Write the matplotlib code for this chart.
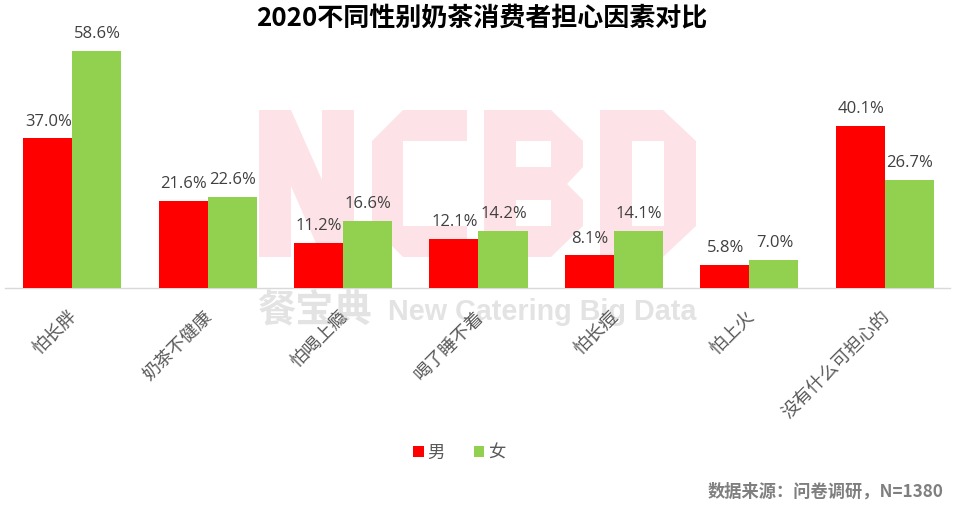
import matplotlib
matplotlib.use("Agg")
import matplotlib.pyplot as plt
import numpy as np
from matplotlib.patches import PathPatch
from matplotlib.path import Path
from matplotlib.transforms import ScaledTranslation, Affine2D

plt.rcParams['font.family'] = ['Noto Sans CJK SC', 'DejaVu Sans']

categories = ['怕长胖', '奶茶不健康', '怕喝上瘾', '喝了睡不着', '怕长痘', '怕上火', '没有什么可担心的']
male = [37.0, 21.6, 11.2, 12.1, 8.1, 5.8, 40.1]
female = [58.6, 22.6, 16.6, 14.2, 14.1, 7.0, 26.7]
series_names = ['男', '女']
title = '2020不同性别奶茶消费者担心因素对比'
source = '数据来源：问卷调研，N=1380'

W, H = 960, 507
fig = plt.figure(figsize=(W / 100, H / 100), dpi=100, facecolor='white')

# Axes placed in pixel terms: baseline at y=288
top_px, base_px = 30, 288
ax = fig.add_axes([4.5 / W, 1 - base_px / H, 948 / W, (base_px - top_px) / H])
ax.set_facecolor('none')
ax.set_ylim(0, (base_px - top_px) / 4.044)
x = np.arange(len(categories))
ax.set_xlim(-0.5, len(categories) - 0.5)
bw = 0.362
b1 = ax.bar(x - bw / 2, male, bw, color='#FF0000', label=series_names[0], zorder=3)
b2 = ax.bar(x + bw / 2, female, bw, color='#92D050', label=series_names[1], zorder=3)

for bars in (b1, b2):
    for r in bars:
        ax.annotate(f'{r.get_height():.1f}%', (r.get_x() + r.get_width() / 2, r.get_height()),
                    xytext=(0.5, 12), textcoords='offset points', ha='center', va='center',
                    fontsize=12, color='#404040', family=['Open Sans', 'DejaVu Sans'], zorder=5)

for s in ('top', 'left', 'right'):
    ax.spines[s].set_visible(False)
ax.spines['bottom'].set_color('#D9D9D9')
ax.spines['bottom'].set_linewidth(1)
ax.spines['bottom'].set_bounds(-0.5, 6.48)
ax.yaxis.set_visible(False)
ax.set_xticks(x)
ax.set_xticklabels(categories, rotation=45, ha='right', va='top', fontsize=13, color='#595959')
ax.tick_params(axis='x', length=0, pad=14)
off = ScaledTranslation(8.5 / 100, 0, fig.dpi_scale_trans)
for lab in ax.get_xticklabels():
    lab.set_transform(lab.get_transform() + off)

fig.legend(handles=[b1, b2], labels=series_names, loc='center', bbox_to_anchor=(459.5 / W, 1 - 452.5 / H),
           ncol=2, frameon=False, fontsize=12.5, labelcolor='#595959', handlelength=0.58,
           handleheight=0.62, handletextpad=0.22, columnspacing=1.7, borderpad=0)

fig.text(482 / W, 1 - 19 / H, title, ha='center', va='center', fontsize=18.75, fontweight='bold', color='black')
fig.text(943 / W, 1 - 492 / H, source, ha='right', va='center', fontsize=12.4, fontweight='bold', color='#7F7F7F')

# Watermark (decorative lettering, in pixels from the top left)
px = Affine2D().scale(1, -1).translate(0, H)
letters = [
    [[(259,110),(291,110),(322,180),(322,110),(354,110),(354,257),(322,257),(291,186),(291,257),(259,257)]],
    [[(403,110),(467,110),(467,141),(403,141),(403,226),(467,226),(467,257),(403,257),(372,226),(372,141)]],
    [[(484,110),(551,110),(583,141),(583,167),(567,184),(583,200),(583,226),(551,257),(484,257)],
     [(516,141),(516,167),(551,167),(551,141)], [(516,200),(516,226),(551,226),(551,200)]],
    [[(600,110),(663,110),(696,141),(696,226),(663,257),(600,257)],
     [(632,141),(632,226),(664,226),(664,141)]],
]
for rings in letters:
    verts, codes = [], []
    for ring in rings:
        verts += ring + [ring[0]]
        codes += [Path.MOVETO] + [Path.LINETO] * (len(ring) - 1) + [Path.CLOSEPOLY]
    fig.add_artist(PathPatch(Path(verts, codes), facecolor='#FDE3E7', edgecolor='none',
                             transform=px, zorder=-2))
fig.text(257 / W, 1 - 311 / H, '餐宝典', ha='left', va='center', fontsize=27.5, fontweight='bold',
         color='#E3E3E3', zorder=-2)
fig.text(388 / W, 1 - 312 / H, 'New Catering Big Data', ha='left', va='center', fontsize=20.7, fontweight='bold',
         color='#E3E3E3', family=['Liberation Sans', 'DejaVu Sans'], zorder=-2)

fig.savefig('out.png', dpi=100)
